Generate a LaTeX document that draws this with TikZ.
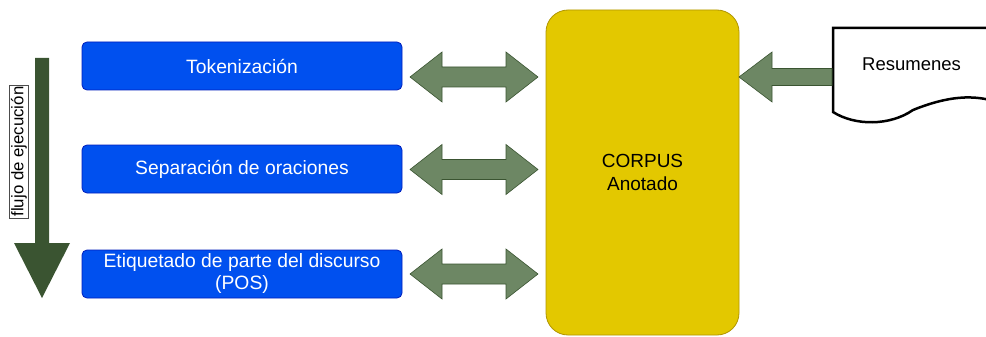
\documentclass[tikz,border=0pt]{standalone}
\usepackage{fontspec}
\setmainfont{Liberation Sans}
\definecolor{boxblue}{HTML}{0050EF}
\definecolor{boxblueline}{HTML}{001DBC}
\definecolor{arrgreen}{HTML}{6D8764}
\definecolor{arrgreenline}{HTML}{3A5431}
\definecolor{flowgreen}{HTML}{3A5431}
\definecolor{corpusfill}{HTML}{E3C800}
\definecolor{corpusline}{HTML}{B09500}
\tikzset{
  stepbox/.style={draw=boxblueline, fill=boxblue, rounded corners=5pt, line width=0.8pt,
    minimum width=320pt, minimum height=48pt, text=white, align=center, inner sep=0pt,
    font=\fontsize{19.3}{22}\selectfont},
  corpusbox/.style={draw=corpusline, fill=corpusfill, rounded corners=22pt, line width=0.8pt,
    minimum width=193pt, minimum height=325pt, align=center, inner sep=0pt,
    font=\fontsize{19}{23}\selectfont},
  greenarrow/.style={fill=arrgreen, draw=arrgreenline, line width=0.6pt, line join=miter},
  flowlabel/.style={draw=black!70, fill=white, line width=0.5pt, rotate=90, inner sep=1.5pt,
    font=\fontsize{16.8}{18}\selectfont},
  docline/.style={draw=black, line width=2.5pt}
}
\newcommand\dblarrow[3]{% x1, x2, y
  \path[greenarrow] (#1,#3) -- (#1+32,#3-25) -- (#1+32,#3-10) -- (#2-32,#3-10) -- (#2-32,#3-25)
   -- (#2,#3) -- (#2-32,#3+25) -- (#2-32,#3+10) -- (#1+32,#3+10) -- (#1+32,#3+25) -- cycle;}
\begin{document}
\begin{tikzpicture}[x=1pt,y=-1pt]
\useasboundingbox (0,0) rectangle (986,337);
% flow arrow
\path[fill=flowgreen] (35,58) -- (49,58) -- (49,243) -- (70,243) -- (42,298) -- (14,243) -- (35,243) -- cycle;
\node[flowlabel] (flow) at (19,151.5) {flujo de ejecución};
% steps
\node[stepbox] (tok) at (242,66) {Tokenización};
\node[stepbox] (sep) at (242,169) {Separación de oraciones};
\node[stepbox] (pos) at (242,274) {Etiquetado de parte del discurso\\(POS)};
% corpus
\node[corpusbox] (corpus) at (642.5,172.5) {CORPUS\\Anotado};
% double arrows
\dblarrow{410}{538}{77}
\dblarrow{410}{538}{169.5}
\dblarrow{410}{538}{274}
% document
\path[fill=white] (833,112) -- (833,28) -- (1000,28) -- (1000,103)
  .. controls (980,96) and (955,93) .. (913,110) .. controls (890,126) and (855,126) .. (833,112) -- cycle;
\draw[docline] (1000,28) -- (833,28) -- (833,112)
  .. controls (855,126) and (890,126) .. (913,110) .. controls (955,93) and (980,96) .. (1000,103);
\node[font=\fontsize{18.5}{22}\selectfont, anchor=west, inner sep=0pt] (res) at (862,64) {Resumenes};
% single arrow from document to corpus
\path[greenarrow] (739,77) -- (772,52) -- (772,68.5) -- (832,68.5) -- (832,85.5) -- (772,85.5) -- (772,102) -- cycle;
\end{tikzpicture}
\end{document}
